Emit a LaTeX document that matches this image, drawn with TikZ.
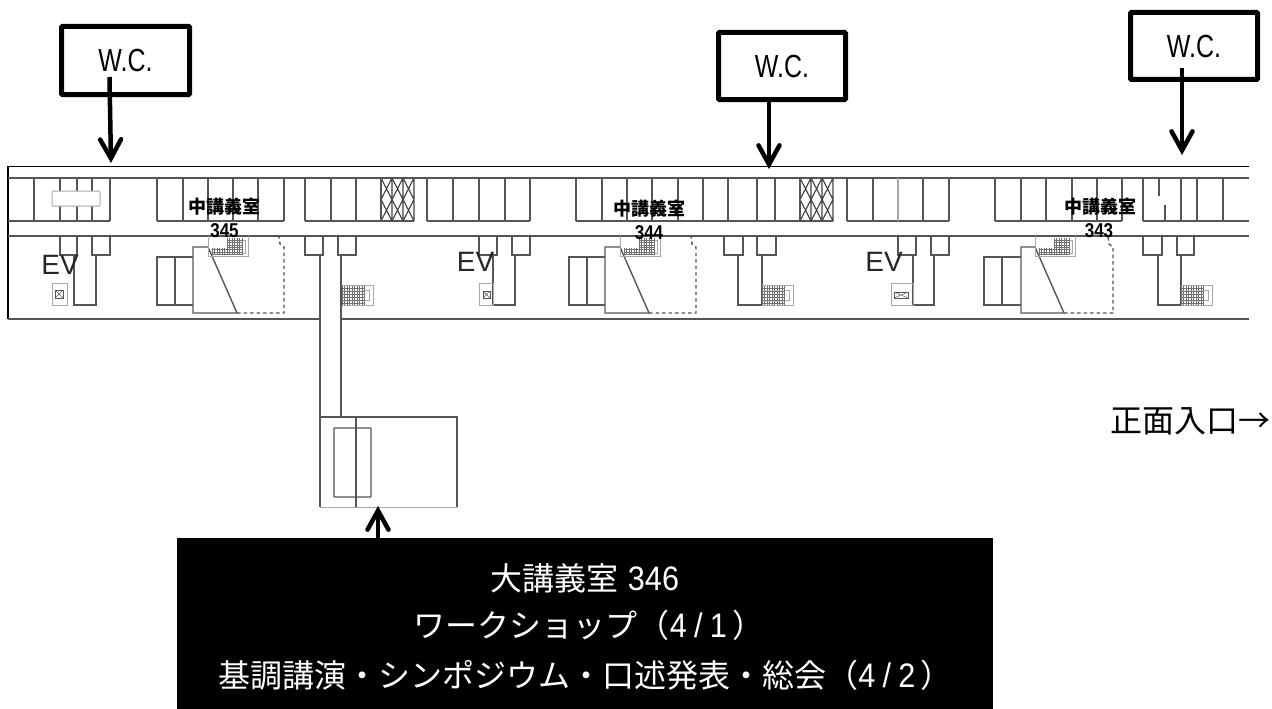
\documentclass[tikz,border=0pt]{standalone}
\usepackage{fontspec}
\usetikzlibrary{arrows.meta}
\setmainfont{Noto Sans CJK JP}
\newfontfamily\wcfont[FakeStretch=0.78]{Liberation Sans}
\newfontfamily\hwfont[FakeStretch=0.9]{Liberation Sans}
\newfontfamily\evfont{Liberation Sans}
\newfontfamily\numfont[FakeStretch=0.85]{Liberation Sans Bold}
\newfontfamily\roomfont{Noto Sans CJK JP Black}
\definecolor{wallc}{HTML}{555555}
\definecolor{hatchc}{HTML}{707070}
\definecolor{faintc}{HTML}{A8A8A8}
\newcommand{\hw}[1]{{\hwfont\fontsize{34}{34}\selectfont #1}}
\newcommand{\slashhw}{\makebox[23pt][c]{\hw{/}}}
\newcommand{\flRow}[3]{\draw[wall] (#1,221) -- (#2,221);
  \foreach \xx in {#3} \draw[wall] (\xx,178) -- (\xx,221);}
\newcommand{\flX}[2]{\foreach \i in {0,1,2}{
   \pgfmathsetmacro{\aa}{#1+\i*(#2-#1)/3}\pgfmathsetmacro{\bb}{#1+(\i+1)*(#2-#1)/3}
   \draw[black!75,line width=1.1pt] (\aa,178) -- (\bb,199.5) -- (\aa,221) (\bb,178) -- (\aa,199.5) -- (\bb,221) (\bb,178) -- (\bb,221);}
   \draw[wall] (#1,178) -- (#1,221);}
\newcommand{\flStub}[2]{\draw[wall] (#1,236) -- (#1,255) -- (#2,255) -- (#2,236);}
\newcommand{\flShaft}[2]{\draw[wall] (#1,255) -- (#1,305) -- (#2,305) -- (#2,255);}
\newcommand{\flCore}[6]{% a b c d e f
  \draw[wall] (#3,257) -- (#1,257) -- (#1,305) -- (#3,305) (#2,257) -- (#2,305);
  \draw[wall] (#3,313) -- (#3,247) -- (#4,247) -- (#5,313) -- cycle;
  \draw[wall,dash pattern=on 3.5pt off 3pt] (#5,313) -- (#6,313) -- (#6,247) -- ({#6-4},244) -- ({#6-5},236);
  \flUpStair{#4}}
\newcommand{\flUpStair}[1]{
  \draw[faintc,line width=1pt] (#1,236) -- (#1,256) -- ({#1+40},256) -- ({#1+40},236);
  \draw[faintc,line width=.9pt] ({#1+34},240) -- ({#1+37},240) -- ({#1+37},253) -- ({#1+34},253);
  \foreach \k in {0,...,12} \draw[hatchc,line width=.6pt] ({#1+4+\k*2.5},247.5) -- ({#1+4+\k*2.5},255);
  \foreach \k in {6,...,12} \draw[hatchc,line width=.6pt] ({#1+4+\k*2.5},238) -- ({#1+4+\k*2.5},247.5);
  \foreach \yy in {249.5,252,254.5} \draw[hatchc,line width=.6pt] ({#1+4},\yy) -- ({#1+34},\yy);
  \foreach \yy in {240,242.5,245,247.5} \draw[hatchc,line width=.6pt] ({#1+19},\yy) -- ({#1+34},\yy);}
\newcommand{\flLowStair}[1]{
  \draw[faintc,line width=1pt] (#1,285) -- ({#1+31},285) -- ({#1+31},305) -- (#1,305);
  \draw[faintc,line width=.9pt] ({#1+22},290) -- ({#1+27},290) -- ({#1+27},300) -- ({#1+22},300);
  \foreach \k in {0,...,9} \draw[hatchc,line width=.6pt] ({#1+\k*2.5},286) -- ({#1+\k*2.5},305);
  \foreach \yy in {288,291,294,297,300,303} \draw[hatchc,line width=.6pt] (#1,\yy) -- ({#1+22},\yy);}
\newcommand{\flLift}[6]{% box x1 x2, inner x1 x2 y1 y2
  \draw[faintc,line width=1pt] (#1,283) rectangle (#2,305);
  \draw[wallc,line width=.7pt] (#3,#5) rectangle (#4,#6);
  \draw[wallc,line width=.5pt] (#3,#5) -- (#4,#6) (#3,#6) -- (#4,#5);}
\tikzset{
  wall/.style={wallc,line width=1.4pt,line cap=butt,line join=miter},
  wcbox/.style={draw=black,fill=white,line width=5pt,rounded corners=1pt,inner sep=0pt,
     font=\wcfont\fontsize{32}{32}\selectfont},
  wcarrow/.style={black,line width=4.5pt,-{Straight Barb[length=19pt,width=21pt,line width=4.5pt,line cap=round,line join=miter]}},
  roomlabel/.style={inner sep=0pt,font=\roomfont\fontsize{18}{18}\selectfont},
  roomnum/.style={inner sep=0pt,font=\numfont\fontsize{20}{20}\selectfont},
  evlabel/.style={inner sep=0pt,text=black!85,font=\evfont\fontsize{28}{28}\selectfont},
  bannerline/.style={inner sep=0pt,text=white,font=\fontsize{32}{32}\selectfont},
}
\begin{document}
\begin{tikzpicture}[x=1pt,y=-1pt]
\useasboundingbox (0,0) rectangle (1272,709);
% outer walls
\draw[black,line width=1.3pt] (8,319) -- (8,166.7) -- (1249,166.7);
\draw[wall] (8,178) -- (1249,178);
\draw[wall] (8,236) -- (1249,236);
\draw[wall] (8,319) -- (320,319) (341,319) -- (1249,319);
% rooms north of corridor
\flRow{8}{110}{34,60,77,92,110}
\flRow{157}{284}{157,183,208,233,258,284}
\flRow{305}{414}{305,331,356}
\flX{381}{414}
\flRow{427}{530}{427,453,479,505,530}
\flRow{576}{833}{576,602,627,652,678,703,728,757,775}
\flX{800}{833}
\flRow{847}{949}{847,873,923,949}
\draw[faintc,line width=1.2pt] (898,178) -- (898,221);
\flRow{995}{1122}{995,1021,1046,1072,1097,1122}
\flRow{1143}{1249}{1143,1181,1197,1223}
\draw[wall] (1159,178) -- (1159,196) (1165,205) -- (1165,221);
\draw[faintc,line width=1pt,fill=white,rounded corners=1pt] (52,191) rectangle (100,206);
% south of corridor
\flStub{60}{77}\flStub{92}{110}\flShaft{74}{96}
\flLift{52}{67}{55}{63}{290}{298}
\flCore{157}{175}{193}{208}{237}{284}
\flStub{305}{323}\flStub{338}{356}
\flLowStair{342}
\flStub{479}{497}\flStub{512}{530}\flShaft{493}{515}
\flLift{479}{493}{483}{490}{291}{298}
\flCore{569}{587}{605}{620}{649}{696}
\flStub{724}{743}\flStub{757}{776}\flShaft{738}{762}
\flLowStair{762}
\flStub{898}{916}\flStub{931}{949}\flShaft{913}{934}
\flLift{891}{913}{894}{908}{292}{298}
\flCore{984}{1002}{1021}{1035}{1064}{1113}
\flStub{1143}{1162}\flStub{1177}{1194}\flShaft{1158}{1181}
\flLowStair{1181}
% passage and large hall
\draw[wall] (320,255) -- (320,507) (341,255) -- (341,417);
\draw[wall] (320,417) -- (457,417) -- (457,507);
\draw[faintc,line width=1pt] (320,507) -- (457,507);
\draw[wall,rounded corners=.5pt] (334,428) rectangle (371,497);
\draw[wall] (356,417) -- (356,507);
% labels on the plan
\node[evlabel] (ev1) at (60,265) {EV};
\node[evlabel] (ev2) at (475.5,262) {EV};
\node[evlabel] (ev3) at (884,262) {EV};
\node[roomlabel] (r345) at (224,207) {中講義室};
\node[roomnum] (n345) at (224.5,231) {345};
\node[roomlabel] (r344) at (649,209) {中講義室};
\node[roomnum] (n344) at (649,233) {344};
\node[roomlabel] (r343) at (1100,207) {中講義室};
\node[roomnum] (n343) at (1099,231) {343};
% W.C. call-outs
\node[wcbox,minimum width=128pt,minimum height=68pt] (wc1) at (125.5,60.5) {\raisebox{-1.5pt}{W.C.}};
\node[wcbox,minimum width=127pt,minimum height=67pt] (wc2) at (782,66) {\raisebox{-1pt}{W.C.}};
\node[wcbox,minimum width=127pt,minimum height=67pt] (wc3) at (1194,46) {\raisebox{-1pt}{W.C.}};
\coordinate (s1) at (109.5,77); \coordinate (e1) at (111,163);
\coordinate (s2) at (769,100);  \coordinate (e2) at (769,169);
\coordinate (s3) at (1182,68);  \coordinate (e3) at (1182,155);
\draw[wcarrow] (s1) -- (e1);
\draw[wcarrow] (s2) -- (e2);
\draw[wcarrow] (s3) -- (e3);
% entrance
\node[inner sep=0pt,font=\fontsize{32}{32}\selectfont] (entry) at (1190,421) {正面入口→};
% banner
\node[fill=black,inner sep=0pt,minimum width=816pt,minimum height=171pt] (banner) at (585,623.5) {};
\coordinate (hall) at (378,506);
\draw[wcarrow] (378,538) -- (hall);
\node[bannerline] (l1) at (585,578) {大講義室\hspace{9pt}\hw{346}};
\node[bannerline] (l2) at (589,625) {ワークショップ（\hw{4}\slashhw\hw{1}\hspace{5pt}）};
\node[bannerline] (l3) at (585.5,675) {基調講演・シンポジウム・口述発表・総会（\hw{4}\slashhw\hw{2}\hspace{5pt}）};
\end{tikzpicture}
\end{document}
